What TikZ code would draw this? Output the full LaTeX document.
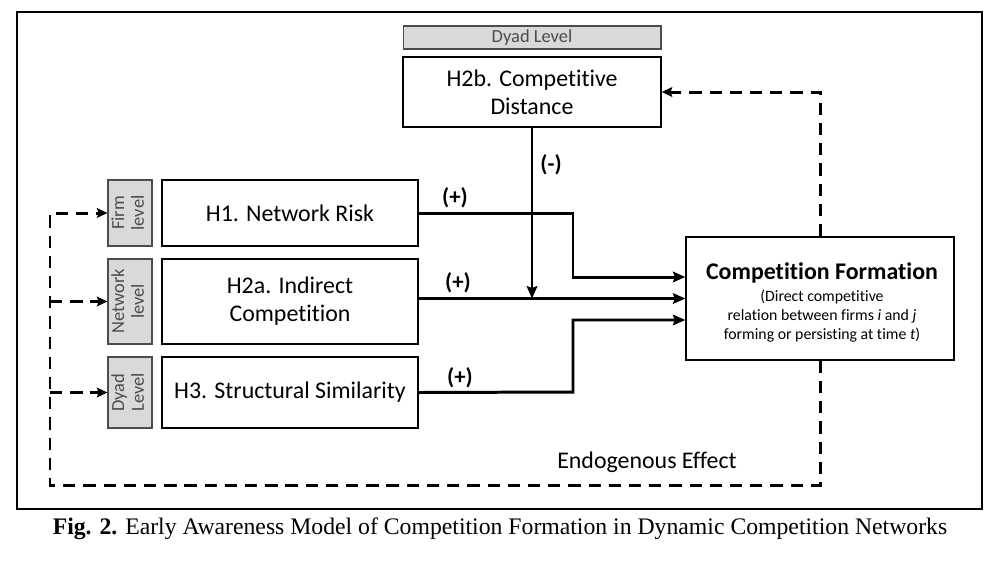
\documentclass[tikz,border=0pt]{standalone}
\usepackage{fontspec}
\setmainfont{Carlito}[Ligatures={NoCommon}]
\newfontfamily\capfont{Liberation Serif}
\usetikzlibrary{arrows.meta,positioning,calc}
\begin{document}
\begin{tikzpicture}[x=0.02cm,y=-0.02cm,
  box/.style={draw=black,line width=0.8pt,fill=white,align=center,inner sep=0pt,font=\fontsize{13.6}{16}\selectfont},
  lvl/.style={draw=black!70,line width=0.6pt,fill=black!15,text=black!70,align=center,inner sep=0pt,font=\fontsize{10.5}{11.3}\selectfont},
  arr/.style={line width=1.7pt,-{Stealth[length=7pt,width=6pt,inset=1pt]}},
  dsh/.style={line width=1.7pt,dash pattern=on 7pt off 4.5pt},
  dsharr/.style={dsh,-{Stealth[length=6pt,width=5.5pt,inset=1pt]}},
  sgn/.style={font=\bfseries\fontsize{13}{15}\selectfont}]
\useasboundingbox (0,0) rectangle (1001,566);
\draw[line width=1.1pt] (17,12) rectangle (982,509);
% top dyad level
\node[lvl,minimum width=5.16cm,minimum height=0.46cm] (dtop) at (532,37.5) {Dyad Level};
\node[box,minimum width=5.16cm,minimum height=1.4cm] (h2b) at (532,92) {H2b. Competitive\\Distance};
% left level labels
\node[lvl,minimum width=0.88cm,minimum height=1.32cm] (firm) at (130,213) {\rotatebox{90}{\begin{tabular}{@{}c@{}}Firm\\level\end{tabular}}};
\node[lvl,minimum width=0.88cm,minimum height=1.7cm] (netw) at (130,301.5) {\rotatebox{90}{\begin{tabular}{@{}c@{}}Network\\level\end{tabular}}};
\node[lvl,minimum width=0.88cm,minimum height=1.42cm] (dyad) at (130,392.5) {\rotatebox{90}{\begin{tabular}{@{}c@{}}Dyad\\Level\end{tabular}}};
% hypothesis boxes
\node[box,minimum width=5.12cm,minimum height=1.32cm] (h1) at (290,213) {H1. Network Risk};
\node[box,minimum width=5.12cm,minimum height=1.7cm] (h2a) at (290,301.5) {H2a. Indirect\\Competition};
\node[box,minimum width=5.12cm,minimum height=1.42cm] (h3) at (290,392.5) {H3. Structural Similarity};
% outcome
\node[box,minimum width=5.36cm,minimum height=2.46cm] (cf) at (820,298.5) {};
\node[font=\bfseries\fontsize{13.6}{16}\selectfont,inner sep=0pt] (cft) at (822,273) {Competition Formation};
\node[align=center,inner sep=0pt,font=\fontsize{9}{10.8}\selectfont] (cfs) at (822,316) {(Direct competitive\\relation between firms \textit{i} and \textit{j}\\forming or persisting at time \textit{t})};
% solid arrows
\coordinate (t1) at ([yshift=0.43cm]cf.west);
\coordinate (t3) at ([yshift=-0.43cm]cf.west);
\draw[arr] (h1.east) -- (573,213) |- (t1);
\draw[arr] (h2a.east |- cf.west) -- (cf.west);
\draw[arr] (h3.east) -- (573,392) |- (t3);
\draw[arr] (h2b.south) -- (h2b.south |- cf.west);
% labels
\node[sgn] (p1) at (455,198) {(+)};
\node[sgn] (p2) at (458,283) {(+)};
\node[sgn] (p3) at (460,378) {(+)};
\node[sgn] (m1) at (551,165) {(-)};
% dashed feedback
\draw[dsharr] (cf.north) |- (h2b.east);
\coordinate (L) at (50,485);
\draw[dsharr] (cf.south) |- (L) |- (firm.west);
\draw[dsharr] (L |- netw.west) -- (netw.west);
\draw[dsharr] (L |- dyad.west) -- (dyad.west);
\node[font=\fontsize{13.6}{16}\selectfont] (endo) at (647,462) {Endogenous Effect};
% caption
\node[font=\capfont\fontsize{13.5}{16}\selectfont] (cap) at (500,529) {\textbf{Fig. 2.} Early Awareness Model of Competition Formation in Dynamic Competition Networks};
\end{tikzpicture}
\end{document}
